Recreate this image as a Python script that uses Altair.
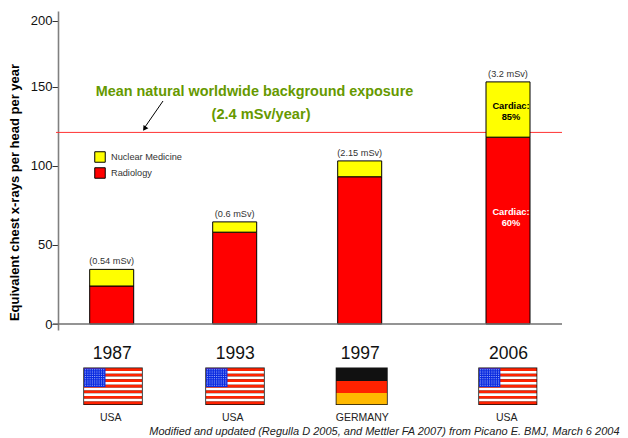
import altair as alt
import pandas as pd

years = [1987, 1993, 1997, 2006]
radiology = [24, 58, 93, 118]
nuclear = [10.5, 6.5, 10, 35.5]
dose_labels = ["(0.54 mSv)", "(0.6 mSv)", "(2.15 mSv)", "(3.2 mSv)"]
countries = ["USA", "USA", "GERMANY", "USA"]
background_level = 121
y_ticks = [0, 50, 100, 150, 200]
series_names = ["Nuclear Medicine", "Radiology"]
FONT = "Liberation Sans"
OX, OY = 58, 11  # page position of the plot origin
W, H = 504, 319

rows = []
for yr, r, n in zip(years, radiology, nuclear):
    rows.append({"year": yr, "series": "Radiology", "value": r, "rank": 0})
    rows.append({"year": yr, "series": "Nuclear Medicine", "value": n, "rank": 1})
bars_df = pd.DataFrame(rows)
tops_df = pd.DataFrame({"year": years, "total": [r + n for r, n in zip(radiology, nuclear)],
                        "label": dose_labels})

xs = alt.Scale(domain=years, range=[53.7, 176.7, 301.7, 450], zero=False, nice=False, padding=0)
ys = alt.Scale(domain=[-4, 0, 150, 200, 208], range=[319, 313, 75.5, 9.7, 0], zero=False, nice=False)
X = alt.X("year:Q", scale=xs, axis=alt.Axis(values=years, format="d", domain=False, ticks=False, grid=False,
                                             labelFontSize=17.5, labelPadding=14, labelColor="#111",
                                             labelFont=FONT, title=None, labelFlush=False, labelOverlap=False))
X_plain = alt.X("year:Q", scale=xs, axis=None)

red_line = alt.Chart(pd.DataFrame({"v": [background_level]})).mark_rule(stroke="#FF3333", strokeWidth=1).encode(
    y=alt.Y("v:Q", scale=ys, axis=None), x=alt.value(-2), x2=alt.value(W))

bars = alt.Chart(bars_df).mark_bar(size=44, stroke="black", strokeWidth=1).encode(
    x=X,
    y=alt.Y("value:Q", scale=ys, stack="zero",
            axis=alt.Axis(values=y_ticks, grid=False, domainColor="#808080", domainWidth=1.6,
                          tickColor="#333", tickSize=6, labelPadding=0, labelFontSize=13, labelFont=FONT,
                          labelColor="#111", title="Equivalent chest x-rays per head per year",
                          titleFontSize=13, titleFont=FONT, titleFontWeight="bold", titleColor="black",
                          titleX=-44, titleY=192 - OY, titleAngle=270, titleBaseline="middle")),
    fill=alt.Fill("series:N", scale=alt.Scale(domain=series_names, range=["#FFFF00", "#FF0000"]),
                  legend=alt.Legend(orient="none", legendX=36, legendY=140, title=None, symbolType="square",
                                    symbolSize=110, symbolStrokeColor="black", symbolStrokeWidth=1,
                                    labelFontSize=9.2, labelFont=FONT, labelColor="#333", rowPadding=0,
                                    labelOffset=5)),
    order=alt.Order("rank:Q"),
)

zero_line = alt.Chart(pd.DataFrame({"v": [0]})).mark_rule(stroke="#707070", strokeWidth=1.5).encode(
    y=alt.Y("v:Q", scale=ys, axis=None), x=alt.value(-5), x2=alt.value(W))

doses = alt.Chart(tops_df).mark_text(fontSize=9.2, font=FONT, color="#333", dy=-8, baseline="middle").encode(
    x=X_plain, y=alt.Y("total:Q", scale=ys, axis=None), text="label:N")

cardiac_df = pd.DataFrame({"year": [2006, 2006], "v": [137.7, 70.7], "t": ["Cardiac:\n85%", "Cardiac:\n60%"],
                           "c": ["black", "white"]})
cardiac = alt.Chart(cardiac_df).mark_text(fontSize=9.3, font=FONT, fontWeight="bold", lineBreak="\n", lineHeight=11,
                                          baseline="middle", dx=3).encode(
    x=X_plain, y=alt.Y("v:Q", scale=ys, axis=None), text="t:N", color=alt.Color("c:N", scale=None))


def note(text, px, py, size, **kw):
    return alt.Chart(pd.DataFrame({"t": [text]})).mark_text(
        fontSize=size, font=FONT, baseline="middle", **kw).encode(
        x=alt.value(px - OX), y=alt.value(py - OY), text="t:N")


green = "#669900"
notes = [
    note("Mean natural worldwide background exposure", 254.5, 92, 14.4, fontWeight="bold", color=green),
    note("(2.4 mSv/year)", 261, 115, 14.6, fontWeight="bold", color=green),
]
for c, px in zip(countries, [110.7, 232.7, 362.3, 506.7]):
    notes.append(note(c, px, 418, 10.5, color="#222"))
notes.append(note("Modified and updated (Regulla D 2005, and Mettler FA 2007) from Picano E. BMJ, March 6 2004",
                  619.5, 432, 11, fontStyle="italic", color="#222", align="right"))

arrow_line = alt.Chart(pd.DataFrame({"a": [0]})).mark_rule(stroke="black", strokeWidth=1).encode(
    x=alt.value(163 - OX), y=alt.value(101 - OY), x2=alt.value(145 - OX), y2=alt.value(127 - OY))
arrow_head = alt.Chart(pd.DataFrame({"a": [0]})).mark_point(
    shape="triangle", angle=214, filled=True, color="black", size=35, opacity=1).encode(
    x=alt.value(145 - OX), y=alt.value(128 - OY))

# flags drawn in page-relative pixels on their own identity scales
flag_rows = []


def rect(x0, y0, x1, y1, color):
    flag_rows.append({"x0": x0 - OX, "x1": x1 - OX, "y0": y0 - OY, "y1": y1 - OY, "c": color})


def usa(left, right, top=367.5, bottom=405):
    rect(left, top, right, bottom, "#111111")
    l, r, t, b = left + .8, right - .8, top + .8, bottom - .8
    sh = (b - t) / 13
    for i in range(13):
        rect(l, t + i * sh, r, t + (i + 1) * sh, "#FF2200" if i % 2 == 0 else "#FFFFFF")
    cr, cb = l + (r - l) * 0.37, t + 7 * sh - .6
    rect(l, t, cr, cb, "#0A2BE0")
    for i in range(9):
        for j in range(8):
            sx = l + 1 + i * (cr - l - 1) / 9
            sy = t + 1 + j * (cb - t - 1) / 8
            rect(sx, sy, sx + 1, sy + 1, "#AAB8F8")


def germany(left, right, top=367.5, bottom=405):
    rect(left, top, right, bottom, "#111111")
    rect(left + .8, 381, right - .8, 393, "#FF2200")
    rect(left + .8, 393, right - .8, bottom - .8, "#FFB900")


usa(83.3, 142.7)
usa(205.3, 264.7)
germany(335.7, 387.7)
usa(478.3, 537.3)

flags = alt.Chart(pd.DataFrame(flag_rows)).mark_rect(strokeWidth=0).encode(
    x=alt.X("x0:Q", scale=None, axis=None), x2="x1:Q",
    y=alt.Y("y0:Q", scale=None, axis=None), y2="y1:Q",
    color=alt.Color("c:N", scale=None))

chart = alt.layer(red_line, bars, zero_line, doses, cardiac, *notes, arrow_line, arrow_head, flags).resolve_scale(
    x="independent", y="independent", color="independent").properties(
    width=W, height=H,
    autosize=alt.AutoSizeParams(type="none"),
    padding={"left": OX - 8, "top": OY - 8, "right": 612 - (OX - 8) - W, "bottom": 429 - (OY - 8) - H},
    background="white",
).configure_view(stroke=None)

chart.save("out.html", embed_options={"renderer": "svg", "actions": False})
